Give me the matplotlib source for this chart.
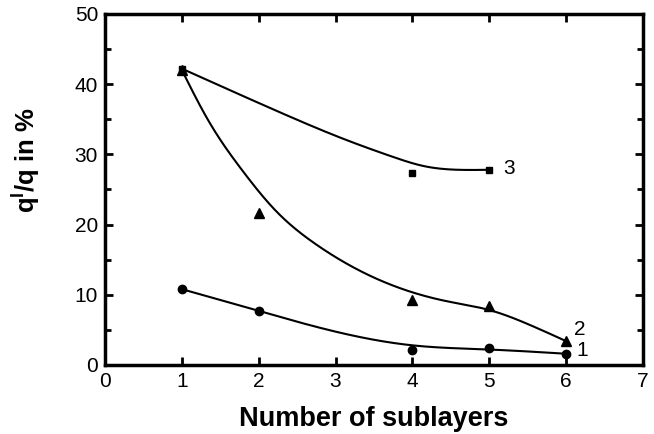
import numpy as np
import matplotlib
matplotlib.use("Agg")
import matplotlib.pyplot as plt
from matplotlib.ticker import MultipleLocator

plt.rcParams['font.family'] = ['Liberation Sans', 'DejaVu Sans']
plt.rcParams['mathtext.fontset'] = 'custom'
plt.rcParams['mathtext.rm'] = 'Liberation Sans:bold'

# measured points
x1 = [1, 2, 4, 5, 6]
y1 = [10.8, 7.7, 2.1, 2.4, 1.5]
x2 = [1, 2, 4, 5, 6]
y2 = [42.0, 21.6, 9.3, 8.4, 3.4]
x3 = [1, 4, 5]
y3 = [42.2, 27.3, 27.8]

# smooth guide curves
c1_x = [1, 2, 3, 4, 5, 6]
c1_y = [10.8, 7.7, 4.75, 2.8, 2.2, 1.6]
c2_x = [1, 1.34, 1.78, 2.21, 2.73, 3.51, 4.44, 5.01, 5.53, 6]
c2_y = [42.0, 34.9, 27.8, 22.1, 17.3, 12.4, 9.1, 7.8, 5.7, 3.4]
c3_x = [1, 2.21, 3.08, 3.73, 4.16, 4.59, 5]
c3_y = [42.2, 36.3, 32.3, 29.7, 28.3, 27.8, 27.8]

labels = ['1', '2', '3']
label_x = [6.13, 6.11, 5.18]
label_y = [2.1, 5.0, 28.0]


def spline(cx, cy, n=300):
    # natural cubic spline through the read points
    x = np.asarray(cx, float)
    y = np.asarray(cy, float)
    k = len(x)
    h = np.diff(x)
    A = np.zeros((k, k))
    b = np.zeros(k)
    A[0, 0] = A[-1, -1] = 1
    for i in range(1, k - 1):
        A[i, i - 1] = h[i - 1]
        A[i, i] = 2 * (h[i - 1] + h[i])
        A[i, i + 1] = h[i]
        b[i] = 6 * ((y[i + 1] - y[i]) / h[i] - (y[i] - y[i - 1]) / h[i - 1])
    m = np.linalg.solve(A, b)
    xs = np.linspace(x[0], x[-1], n)
    j = np.clip(np.searchsorted(x, xs) - 1, 0, k - 2)
    t0 = x[j + 1] - xs
    t1 = xs - x[j]
    hj = h[j]
    ys = (m[j] * t0 ** 3 + m[j + 1] * t1 ** 3) / (6 * hj) \
        + (y[j] / hj - m[j] * hj / 6) * t0 + (y[j + 1] / hj - m[j + 1] * hj / 6) * t1
    return xs, ys


fig = plt.figure(figsize=(6.54, 4.34), dpi=100)
ax = fig.add_axes([0.1606, 0.159, 0.8224, 0.809])

for cx, cy in [(c1_x, c1_y), (c2_x, c2_y), (c3_x, c3_y)]:
    xs, ys = spline(cx, cy)
    ax.plot(xs, ys, color='black', lw=1.5)

ax.plot(x1, y1, 'o', color='black', ms=6)
ax.plot(x2, y2, '^', color='black', ms=7)
ax.plot(x3, y3, 's', color='black', ms=5)

for t, tx, ty in zip(labels, label_x, label_y):
    ax.text(tx, ty, t, fontsize=15, va='center', ha='left')

ax.set_xlim(0, 7)
ax.set_ylim(0, 50)
ax.xaxis.set_major_locator(MultipleLocator(1))
ax.yaxis.set_major_locator(MultipleLocator(10))
ax.yaxis.set_minor_locator(MultipleLocator(5))
ax.tick_params(which='both', direction='in', top=True, right=True, width=2, labelsize=15)
ax.tick_params(which='major', length=6, pad=5)
ax.tick_params(which='minor', length=4)
for s in ax.spines.values():
    s.set_linewidth(2.5)

ax.set_xlabel('Number of sublayers', fontsize=19.5, fontweight='bold', labelpad=11)
ax.set_ylabel('q$^{\\mathrm{l}}$/q in %', fontsize=18.5, fontweight='bold')
ax.yaxis.set_label_coords(-0.117, 0.584)

fig.savefig('out.png', dpi=100)
